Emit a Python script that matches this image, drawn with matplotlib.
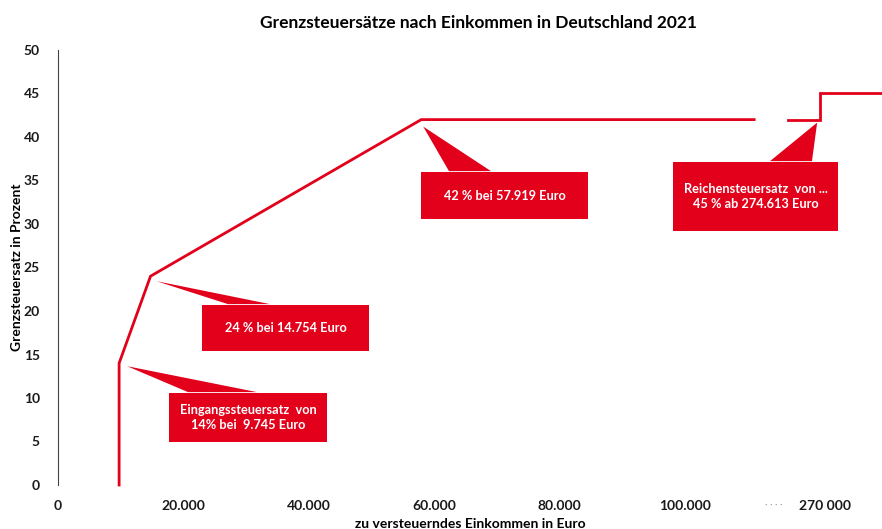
import matplotlib
matplotlib.use("Agg")
import matplotlib.pyplot as plt
import numpy as np
from matplotlib.patches import Polygon, Rectangle
from matplotlib.transforms import ScaledTranslation

plt.rcParams['font.family'] = ['Lato', 'DejaVu Sans']

RED = "#e2001a"

# Grenzsteuersatz-Verlauf (Eckwerte 2021)
x_main = [9745, 9745, 14754, 57919, 111000]
y_main = [0, 14, 24, 42, 42]
x_top = [268000, 274613, 274613, 290000]
y_top = [42, 42, 45, 45]

xticks = [0, 20000, 40000, 60000, 80000, 100000, 200000, 270000]
xtick_labels = ["0", "20.000", "40.000", "60.000", "80.000", "100.000", "· · · ·", "270 000"]
yticks = list(range(0, 51, 5))

callouts = [
    # text, tip (data), tip offset px, box (axes frac x0, y0, x1, y1), base (x0, x1)
    ("42 % bei 57.919 Euro", (57919, 42), (2, -7), (0.4405, 0.6115, 0.6432, 0.7195), (0.4745, 0.5255)),
    ("24 % bei 14.754 Euro", (14754, 24), (6, -5), (0.1748, 0.3080, 0.3774, 0.4138), (0.2063, 0.2573)),
    ("Eingangssteuersatz  von\n14% bei  9.745 Euro", (9745, 14), (8, -3), (0.1347, 0.0989, 0.3265, 0.2115), (0.1578, 0.2415)),
    ("Reichensteuersatz  von ...\n45 % ab 274.613 Euro", (274613, 42), (-3, -3), (0.7464, 0.5839, 0.9466, 0.7425), (0.8641, 0.9150)),
]

# gestauchte x-Achse mit Bruch zwischen 111.000 und 268.000
xp = [-100000, 111000, 268000, 400000]
dp = [-100000, 111000, 116430, 116430 + 132000 * 0.771]


def fwd(x):
    return np.interp(x, xp, dp)


def inv(d):
    return np.interp(d, dp, xp)


fig = plt.figure(figsize=(8.82, 5.29), dpi=100)
ax = fig.add_axes([58 / 882, 44 / 529, 824 / 882, 435 / 529])
ax.set_xscale('function', functions=(fwd, inv))
ax.set_xlim(0, 287400)
ax.set_ylim(0, 50)

ax.plot(x_main, y_main, color=RED, lw=2, solid_joinstyle='miter', clip_on=False)
ax.plot(x_top, y_top, color=RED, lw=2, solid_joinstyle='miter')

for side in ['top', 'right', 'bottom']:
    ax.spines[side].set_visible(False)
ax.spines['left'].set_color("#444444")
ax.spines['left'].set_linewidth(0.8)

ax.set_yticks(yticks)
ax.set_xticks(xticks)
ax.set_xticklabels(xtick_labels)
ax.tick_params(length=0, labelsize=10, labelcolor="#1a1a1a")
ax.tick_params(axis='y', pad=13)
ax.tick_params(axis='x', pad=11)
for lab in ax.get_xticklabels() + ax.get_yticklabels():
    lab.set_fontweight('bold')
labs = ax.get_xticklabels()
labs[6].set_color("#999999")
labs[6].set_fontweight('normal')
labs[6].set_fontsize(7)
labs[7].set_transform(labs[7].get_transform() + ScaledTranslation(27 / 100, 0, fig.dpi_scale_trans))

ax.set_xlabel("zu versteuerndes Einkommen in Euro", fontsize=10, fontweight='bold', labelpad=4)
ax.set_ylabel("Grenzsteuersatz in Prozent", fontsize=10, fontweight='bold')
ax.yaxis.set_label_coords(-0.042, 0.5)
ax.set_title("Grenzsteuersätze nach Einkommen in Deutschland 2021", fontsize=12.5,
             fontweight='bold', pad=16, x=0.51)

to_axes = ax.transAxes.inverted()
for text, tip, off, box, base in callouts:
    px, py = ax.transData.transform(tip)
    tx, ty = to_axes.transform((px + off[0], py + off[1]))
    x0, y0, x1, y1 = box
    ax.add_patch(Rectangle((x0, y0), x1 - x0, y1 - y0, transform=ax.transAxes,
                           facecolor=RED, edgecolor='none', clip_on=False))
    ax.add_patch(Polygon([(tx, ty), (base[0], y1 + 0.002), (base[1], y1 + 0.002)],
                         closed=True, transform=ax.transAxes,
                         facecolor=RED, edgecolor='none', clip_on=False))
    ax.text((x0 + x1) / 2, (y0 + y1) / 2, text, transform=ax.transAxes, color='white',
            fontsize=9.2, fontweight='bold', ha='center', va='center', linespacing=1.3)

fig.savefig("out.png", dpi=100)
